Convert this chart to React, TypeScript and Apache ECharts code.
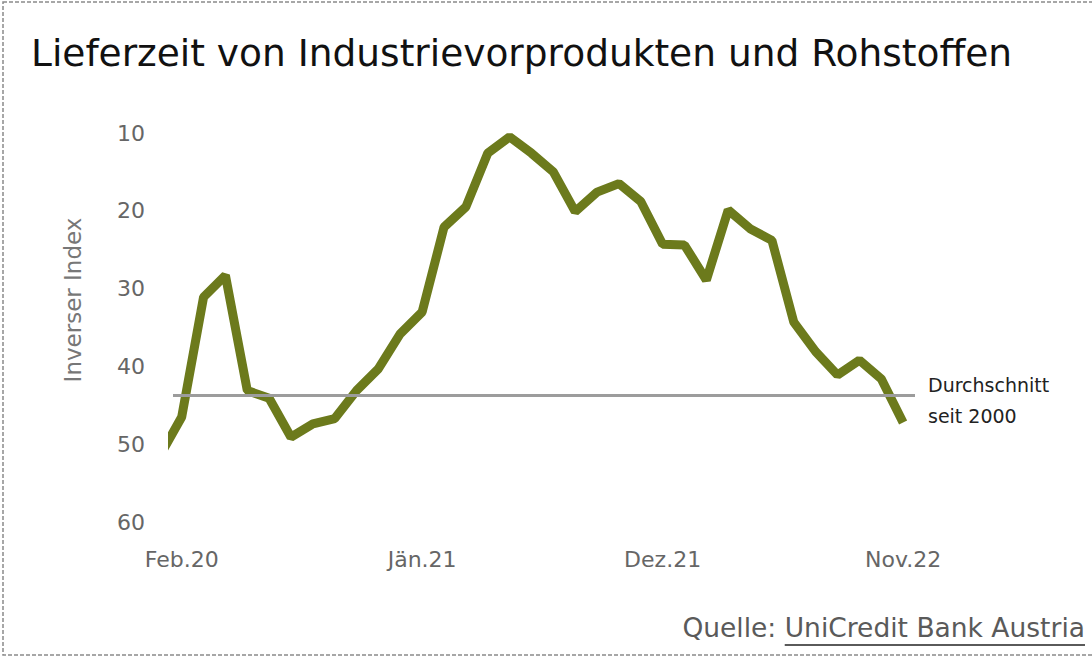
import React, { useEffect, useRef } from "react";
import * as echarts from "echarts";

const TITLE = "Lieferzeit von Industrievorprodukten und Rohstoffen";
const Y_NAME = "Inverser Index";
const SOURCE_PREFIX = "Quelle: ";
const SOURCE_LINK = "UniCredit Bank Austria";
const AVG_LABEL = ["Durchschnitt", "seit 2000"];

const months = [
  "Jän.20", "Feb.20", "Mär.20", "Apr.20", "Mai.20", "Jun.20", "Jul.20", "Aug.20", "Sep.20", "Okt.20", "Nov.20", "Dez.20",
  "Jän.21", "Feb.21", "Mär.21", "Apr.21", "Mai.21", "Jun.21", "Jul.21", "Aug.21", "Sep.21", "Okt.21", "Nov.21", "Dez.21",
  "Jän.22", "Feb.22", "Mär.22", "Apr.22", "Mai.22", "Jun.22", "Jul.22", "Aug.22", "Sep.22", "Okt.22", "Nov.22",
];

const values = [
  51.5, 46.5, 31.1, 28.3, 43.1, 44.1, 49.1, 47.4, 46.7, 43.1, 40.3, 35.8,
  33.0, 22.1, 19.5, 12.6, 10.5, 12.6, 15.0, 20.1, 17.6, 16.5, 18.8, 24.3,
  24.4, 28.9, 19.9, 22.3, 23.8, 34.3, 38.1, 41.1, 39.2, 41.6, 47.2,
];

const labeledMonths = ["Feb.20", "Jän.21", "Dez.21", "Nov.22"];
const yTicks = [10, 20, 30, 40, 50, 60];
const average = 43.7;

const FONT = "DejaVu Sans";

export default function App() {
  const ref = useRef<HTMLDivElement>(null);
  useEffect(() => {
    if (!ref.current) return;
    const chart = echarts.init(ref.current, null, { renderer: "svg" });

    const ctx = document.createElement("canvas").getContext("2d")!;
    const srcSize = 26.5;
    ctx.font = `${srcSize}px "${FONT}"`;
    const linkW = ctx.measureText(SOURCE_LINK).width;
    const srcRight = 1085;

    const labelIdx = labeledMonths.map((m) => months.indexOf(m));

    chart.setOption({
      animation: false,
      backgroundColor: "#ffffff",
      title: {
        text: TITLE,
        left: 26,
        top: 29,
        textStyle: { fontFamily: FONT, fontSize: 37.5, fontWeight: "normal", color: "#111111" },
      },
      grid: { left: 173, right: 177, top: 133, bottom: 137 },
      xAxis: {
        type: "value",
        min: 0.602,
        max: 34.545,
        axisLine: { show: false },
        axisTick: { show: false },
        splitLine: { show: false },
        axisLabel: {
          customValues: labelIdx,
          formatter: (v: number) => months[Math.round(v)],
          fontFamily: FONT,
          fontSize: 22,
          color: "#666666",
          margin: 26,
        },
      },
      yAxis: {
        type: "value",
        inverse: true,
        min: yTicks[0],
        max: yTicks[yTicks.length - 1],
        interval: 10,
        axisLine: { show: false },
        axisTick: { show: false },
        splitLine: { show: false },
        axisLabel: { fontFamily: FONT, fontSize: 22, color: "#666666", margin: 28 },
      },
      series: [
        {
          type: "line",
          data: values.map((v, i) => [i, v]),
          symbol: "none",
          clip: true,
          lineStyle: { color: "#6c7a1c", width: 9 },
          z: 2,
          markLine: {
            silent: true,
            symbol: ["none", "none"],
            label: { show: false },
            lineStyle: { color: "#9c9c9c", width: 3, type: "solid" },
            data: [{ yAxis: average }],
            z: 3,
          },
        },
      ],
      graphic: [
        {
          type: "rect",
          silent: true,
          z: -10,
          shape: { x: 3, y: 2, width: 1100, height: 653 },
          style: { fill: "none", stroke: "#8a8a8a", lineWidth: 1.5, lineDash: [4, 2] },
        },
        {
          type: "text",
          x: 73,
          y: 300,
          rotation: Math.PI / 2,
          style: {
            text: Y_NAME,
            fontFamily: FONT,
            fontSize: 23,
            fill: "#777777",
            align: "center",
            verticalAlign: "middle",
          },
        },
        {
          type: "text",
          x: 928,
          y: 385,
          style: { text: AVG_LABEL[0], fontFamily: FONT, fontSize: 19, fill: "#222222", align: "left", verticalAlign: "middle" },
        },
        {
          type: "text",
          x: 928,
          y: 416,
          style: { text: AVG_LABEL[1], fontFamily: FONT, fontSize: 19, fill: "#222222", align: "left", verticalAlign: "middle" },
        },
        {
          type: "text",
          x: srcRight,
          y: 627,
          style: { text: SOURCE_LINK, fontFamily: FONT, fontSize: srcSize, fill: "#5a5a5a", align: "right", verticalAlign: "middle" },
        },
        {
          type: "text",
          x: srcRight - linkW,
          y: 627,
          style: { text: SOURCE_PREFIX, fontFamily: FONT, fontSize: srcSize, fill: "#5a5a5a", align: "right", verticalAlign: "middle" },
        },
        {
          type: "line",
          shape: { x1: srcRight - linkW, y1: 645, x2: srcRight, y2: 645 },
          style: { stroke: "#5a5a5a", lineWidth: 2 },
        },
      ],
    });
    return () => chart.dispose();
  }, []);
  return <div ref={ref} style={{ position: "absolute", left: 0, top: 0, width: 1092, height: 659 }} />;
}
